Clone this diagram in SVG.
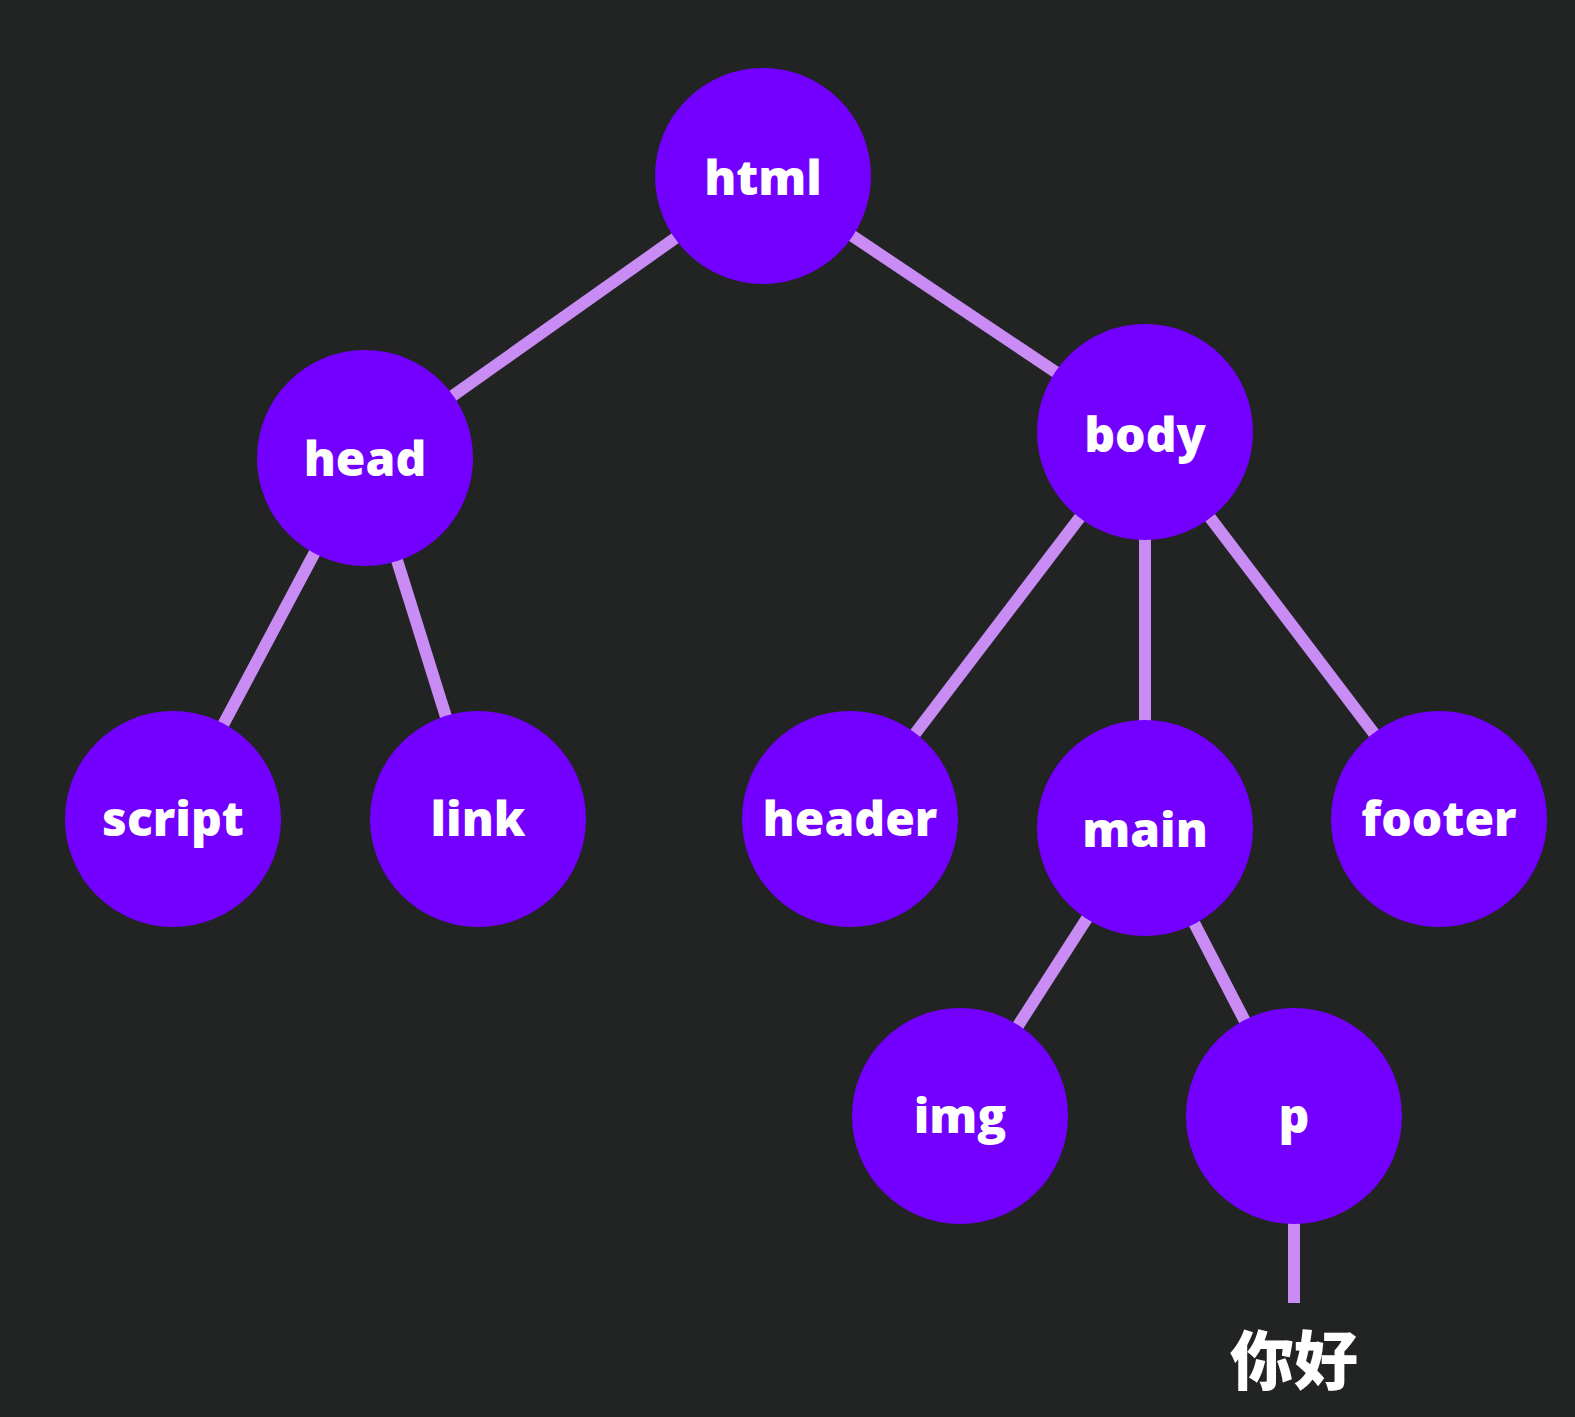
<svg xmlns="http://www.w3.org/2000/svg" width="1575" height="1417" viewBox="0 0 1575 1417">
<style>
.bg{fill:#222323}
.edge{stroke:#c98cf4;stroke-width:12;fill:none}
.node circle{fill:#7300ff}
.node text{fill:#ffffff;font-family:"Open Sans","Noto Sans",sans-serif;font-weight:800;font-size:48px;text-anchor:middle}
.leaf{fill:#ffffff;font-family:"Noto Sans CJK SC",sans-serif;font-weight:900;font-size:64px;text-anchor:middle}
</style>
<rect class="bg" x="0" y="0" width="1575" height="1417"/>
<g id="connectors">
<line class="edge" x1="763" y1="176" x2="365" y2="458"/>
<line class="edge" x1="763" y1="176" x2="1145" y2="432"/>
<line class="edge" x1="365" y1="458" x2="173" y2="819"/>
<line class="edge" x1="365" y1="458" x2="478" y2="819"/>
<line class="edge" x1="1145" y1="432" x2="850" y2="819"/>
<line class="edge" x1="1145" y1="432" x2="1145" y2="828"/>
<line class="edge" x1="1145" y1="432" x2="1439" y2="819"/>
<line class="edge" x1="1145" y1="828" x2="960" y2="1116"/>
<line class="edge" x1="1145" y1="828" x2="1294" y2="1116"/>
<line class="edge" x1="1294" y1="1116" x2="1294" y2="1303"/>
</g>
<g id="node-html" class="node"><circle cx="763" cy="176" r="108"/><text x="763" y="195">html</text></g>
<g id="node-head" class="node"><circle cx="365" cy="458" r="108"/><text x="365" y="476">head</text></g>
<g id="node-body" class="node"><circle cx="1145" cy="432" r="108"/><text x="1145" y="452">body</text></g>
<g id="node-script" class="node"><circle cx="173" cy="819" r="108"/><text x="173" y="836">script</text></g>
<g id="node-link" class="node"><circle cx="478" cy="819" r="108"/><text x="478" y="836">link</text></g>
<g id="node-header" class="node"><circle cx="850" cy="819" r="108"/><text x="850" y="836">header</text></g>
<g id="node-main" class="node"><circle cx="1145" cy="828" r="108"/><text x="1145" y="847">main</text></g>
<g id="node-footer" class="node"><circle cx="1439" cy="819" r="108"/><text x="1439" y="836">footer</text></g>
<g id="node-img" class="node"><circle cx="960" cy="1116" r="108"/><text x="960" y="1133">img</text></g>
<g id="node-p" class="node"><circle cx="1294" cy="1116" r="108"/><text x="1294" y="1133">p</text></g>
<g id="node-text"><text class="leaf" x="1294" y="1384">你好</text></g>
</svg>
